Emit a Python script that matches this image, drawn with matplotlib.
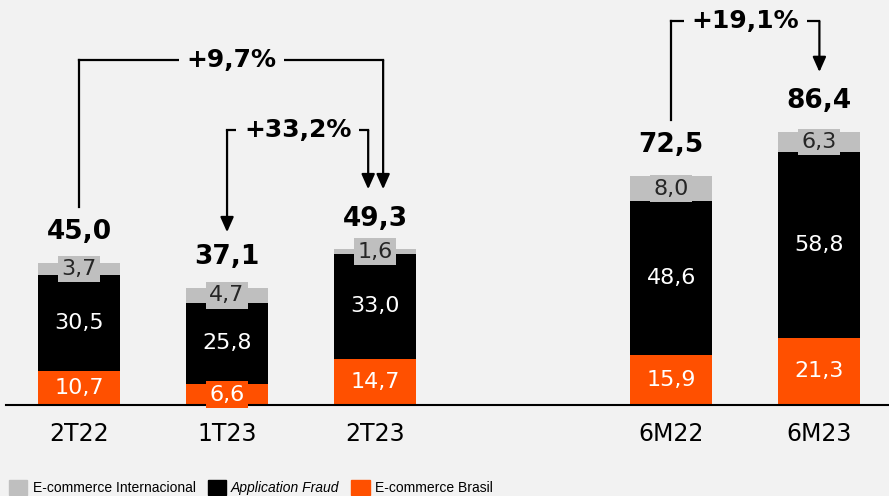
import numpy as np
import matplotlib.pyplot as plt
from matplotlib.patches import Patch

# values (R$ mm)
categories = ["2T22", "1T23", "2T23", "6M22", "6M23"]
ecom_brasil = [10.7, 6.6, 14.7, 15.9, 21.3]
app_fraud = [30.5, 25.8, 33.0, 48.6, 58.8]
ecom_intl = [3.7, 4.7, 1.6, 8.0, 6.3]
totals = [45.0, 37.1, 49.3, 72.5, 86.4]

# growth brackets: (from, to, label)
growth = [(0, 2, "+9,7%"), (1, 2, "+33,2%"), (3, 4, "+19,1%")]

BG = "#F2F2F2"
GRAY = "#BFBFBF"
ORANGE = "#FF5000"


def fmt(v):
    return f"{v:.1f}".replace(".", ",")


fig = plt.figure(figsize=(8.89, 4.96), dpi=100, facecolor=BG)
ax = fig.add_axes([0.0067, 0.1835, 0.9933, 0.8165], facecolor=BG)

x = np.array([0, 1, 2, 4, 5])
w = 0.554
b1 = np.array(ecom_brasil)
b2 = b1 + np.array(app_fraud)

ax.bar(x, ecom_brasil, w, color=ORANGE)
ax.bar(x, app_fraud, w, bottom=b1, color="black")
ax.bar(x, ecom_intl, w, bottom=b2, color=GRAY)

# segment labels with boxes in segment colour
for i in range(len(x)):
    ax.text(x[i], ecom_brasil[i] / 2, fmt(ecom_brasil[i]), ha="center", va="center",
            color="white", fontsize=16,
            bbox=dict(boxstyle="square,pad=0.15", fc=ORANGE, ec="none"))
    ax.text(x[i], b1[i] + app_fraud[i] / 2, fmt(app_fraud[i]), ha="center", va="center",
            color="white", fontsize=16)
    ax.text(x[i], b2[i] + ecom_intl[i] / 2, fmt(ecom_intl[i]), ha="center", va="center",
            color="#262626", fontsize=16,
            bbox=dict(boxstyle="square,pad=0.15", fc=GRAY, ec="none"))
    ax.annotate(fmt(totals[i]), xy=(x[i], totals[i]), xytext=(0, 22),
                textcoords="offset points", ha="center", va="center",
                fontsize=19, fontweight="bold")

# growth brackets
levels = [109.2, 87.0, 121.5]
right_dx = [0.054, -0.047, 0.0]
left_arrow = [False, True, False]
for (i, j, lab), lvl, dx, la in zip(growth, levels, right_dx, left_arrow):
    x0, x1 = x[i], x[j] + dx
    y0, y1 = totals[i] + 17.6, totals[j] + 19.0
    ax.plot([x0, x1], [lvl, lvl], color="black", lw=1.6, solid_capstyle="projecting")
    for xx, yy, arrow in ((x0, y0, la), (x1, y1, True)):
        if arrow:
            ax.annotate("", xy=(xx, yy), xytext=(xx, lvl),
                        arrowprops=dict(arrowstyle="-|>,head_length=0.9,head_width=0.4",
                                        color="black", lw=1.6, shrinkA=0, shrinkB=0))
        else:
            ax.plot([xx, xx], [lvl, yy], color="black", lw=1.6, solid_capstyle="projecting")
    ax.text((x0 + x1) / 2, lvl, lab, ha="center", va="center", fontsize=18,
            fontweight="bold",
            bbox=dict(boxstyle="square,pad=0.3", fc=BG, ec="none"))

ax.set_xlim(-0.493, 5.47)
ax.set_ylim(0, 128.2)
for s in ["top", "right", "left"]:
    ax.spines[s].set_visible(False)
ax.spines["bottom"].set_linewidth(1.5)
ax.set_yticks([])
ax.set_xticks(x)
ax.set_xticklabels(categories, fontsize=17)
ax.tick_params(axis="x", length=0, pad=12)

handles = [Patch(color=GRAY), Patch(color="black"), Patch(color=ORANGE)]
labels = ["E-commerce Internacional", "Application Fraud", "E-commerce Brasil"]
leg = fig.legend(handles, labels, loc="lower left", bbox_to_anchor=(0.004, -0.01),
                 ncol=3, frameon=False, handlelength=1.3, handleheight=1.3,
                 handletextpad=0.4, columnspacing=0.85, borderaxespad=0,
                 prop={"family": "Liberation Sans", "size": 10})
leg.get_texts()[1].set_style("italic")

fig.savefig("out.png", dpi=100, facecolor=BG)
